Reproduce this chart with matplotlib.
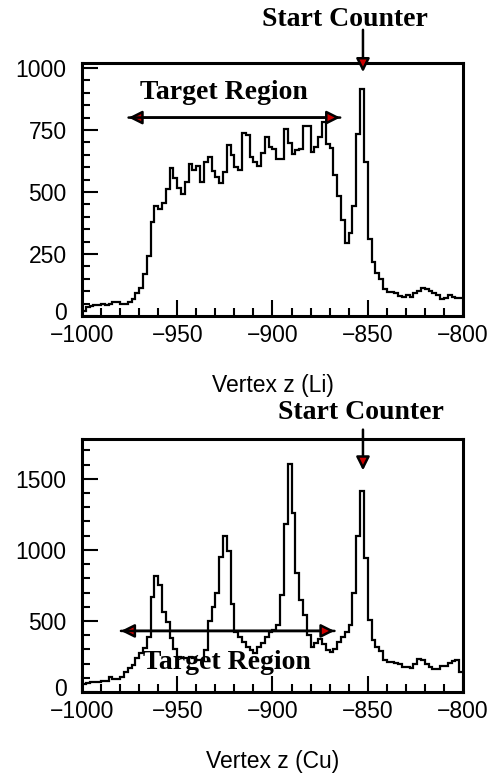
import numpy as np
import matplotlib.pyplot as plt
from matplotlib.ticker import MultipleLocator
from matplotlib.transforms import ScaledTranslation

# vertex z histograms, 2 cm bins from -1000 to -800
li_counts = [22, 35, 42, 45, 45, 47, 45, 50, 57, 55,
             48, 47, 55, 70, 92, 112, 170, 243, 378, 444,
             430, 454, 512, 598, 558, 515, 490, 539, 611, 588,
             605, 539, 620, 640, 585, 560, 537, 581, 689, 649,
             602, 588, 736, 728, 642, 622, 604, 658, 722, 682,
             675, 631, 631, 752, 698, 655, 668, 675, 766, 766,
             662, 682, 722, 783, 695, 678, 568, 484, 387, 295,
             336, 443, 734, 917, 619, 309, 216, 174, 149, 109,
             98, 95, 91, 80, 75, 85, 78, 91, 102, 114,
             108, 101, 91, 85, 67, 74, 83, 78, 71, 71]
cu_counts = [56, 65, 73, 68, 68, 80, 80, 108, 89, 89,
             108, 138, 166, 190, 237, 272, 310, 387, 669, 819,
             753, 565, 490, 380, 300, 250, 237, 240, 248, 240,
             225, 225, 295, 500, 600, 695, 953, 1098, 990, 620,
             425, 390, 354, 319, 296, 277, 319, 347, 390, 425,
             440, 472, 683, 1183, 1605, 1260, 840, 650, 542, 402,
             319, 343, 371, 338, 296, 280, 305, 355, 390, 425,
             470, 697, 1098, 1415, 940, 505, 365, 320, 290, 228,
             214, 210, 205, 195, 178, 174, 170, 200, 232, 225,
             200, 176, 165, 160, 180, 185, 205, 215, 225, 140]
edges = np.linspace(-1000, -800, len(li_counts) + 1)

# annotation positions (data coords)
li_target = (-977, -863, 800)
cu_target = (-981, -866, 430)
start_z = -852.5

plt.rcParams['font.family'] = ['Liberation Sans', 'DejaVu Sans']
plt.rcParams['axes.linewidth'] = 2.2

fig = plt.figure(figsize=(4.93, 7.76), dpi=100)
ax1 = fig.add_axes([0.1663, 0.5928, 0.7728, 0.326])
ax2 = fig.add_axes([0.1663, 0.1082, 0.7728, 0.326])

serif = dict(family='Liberation Serif', fontweight='bold', fontsize=20)
arrow = dict(arrowstyle='-|>', mutation_scale=20, fc='#cc0000', ec='black', lw=1.8)


def style(ax, ymax, major, minor, label):
    ax.set_xlim(-1000, -800)
    ax.set_ylim(0, ymax)
    ax.xaxis.set_major_locator(MultipleLocator(50))
    ax.xaxis.set_minor_locator(MultipleLocator(10))
    ax.yaxis.set_major_locator(MultipleLocator(major))
    ax.yaxis.set_minor_locator(MultipleLocator(minor))
    ax.tick_params(which='both', direction='in', top=False, right=False,
                   width=1.5, labelsize=16.5)
    ax.tick_params(which='major', length=11.5)
    ax.tick_params(which='minor', length=5.8)
    ax.tick_params(axis='x', pad=6)
    ax.tick_params(axis='y', pad=11)
    ax.set_xlabel(label, fontsize=16.5, labelpad=19)
    # lift the "0" label a little, like the original
    fig.canvas.draw()
    for tick in ax.yaxis.get_major_ticks():
        if tick.get_loc() == 0:
            tick.label1.set_transform(tick.label1.get_transform()
                                      + ScaledTranslation(0, 3.5 / 72, fig.dpi_scale_trans))


ax1.stairs(li_counts, edges, baseline=None, color='black', lw=1.6)
style(ax1, 1020, 250, 50, 'Vertex z (Li)')
ax1.annotate('', xy=(li_target[0], li_target[2]), xytext=(li_target[1], li_target[2]),
             arrowprops=arrow)
ax1.annotate('', xy=(li_target[1], li_target[2]), xytext=(li_target[0], li_target[2]),
             arrowprops=arrow)
ax1.text(-925.5, 903, 'Target Region', ha='center', va='center', **serif)
ax1.annotate('', xy=(start_z, 972), xytext=(start_z, 1165),
             arrowprops=arrow, annotation_clip=False)
ax1.text(-862, 1195, 'Start Counter', ha='center', va='center', clip_on=False, **serif)

ax2.stairs(cu_counts, edges, baseline=None, color='black', lw=1.6)
style(ax2, 1780, 500, 100, 'Vertex z (Cu)')
ax2.annotate('', xy=(cu_target[0], cu_target[2]), xytext=(cu_target[1], cu_target[2]),
             arrowprops=arrow)
ax2.annotate('', xy=(cu_target[1], cu_target[2]), xytext=(cu_target[0], cu_target[2]),
             arrowprops=arrow)
ax2.text(-924, 205, 'Target Region', ha='center', va='center', **serif)
ax2.annotate('', xy=(start_z, 1540), xytext=(start_z, 1866),
             arrowprops=arrow, annotation_clip=False)
ax2.text(-853.5, 1970, 'Start Counter', ha='center', va='center', clip_on=False, **serif)

plt.savefig('out.png', dpi=100)
